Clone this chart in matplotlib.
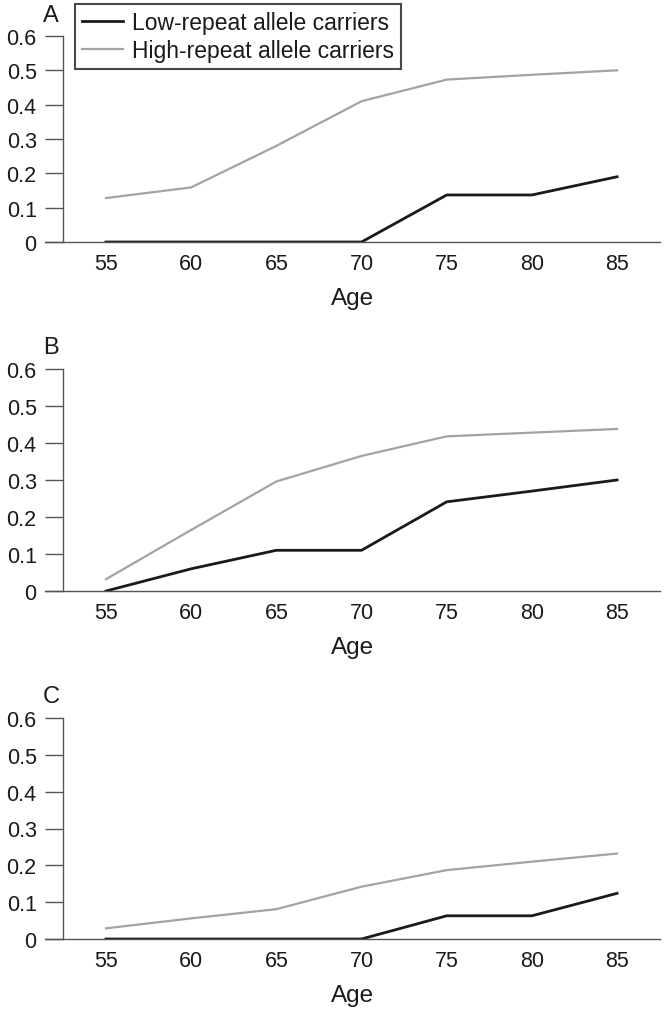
import matplotlib
matplotlib.use('Agg')
import matplotlib.pyplot as plt
from matplotlib.lines import Line2D

plt.rcParams['font.family'] = ['Liberation Sans', 'DejaVu Sans']

# ── data ─────────────────────────────────────────
AGES = [55, 60, 65, 70, 75, 80, 85]
PANELS = ["A", "B", "C"]

LOW_A  = [0, 0, 0, 0, 0.137, 0.137, 0.19]
HIGH_A = [0.128, 0.159, 0.28, 0.41, 0.473, 0.487, 0.50]

LOW_B  = [0, 0.06, 0.11, 0.11, 0.241, 0.27, 0.30]
HIGH_B = [0.032, 0.165, 0.296, 0.365, 0.418, 0.428, 0.438]

LOW_C  = [0, 0, 0, 0, 0.063, 0.063, 0.124]
HIGH_C = [0.029, 0.056, 0.081, 0.142, 0.187, 0.21, 0.232]

LOW_SERIES  = [LOW_A, LOW_B, LOW_C]
HIGH_SERIES = [HIGH_A, HIGH_B, HIGH_C]
LABELS = ["Low-repeat allele carriers", "High-repeat allele carriers"]

LOW_COLOR  = '#1a1a1a'
HIGH_COLOR = '#a3a3a3'
AXIS_COLOR = '#555555'
TEXT_COLOR = '#1a1a1a'

W, H = 666, 1012
fig = plt.figure(figsize=(W / 100, H / 100), dpi=100)

# panel boxes in pixels: (y of 0.6, y of 0)
boxes = [(37, 243), (370, 592), (719, 940)]
left_px, right_px = 45, 660

for i, (top_px, bot_px) in enumerate(boxes):
    ax = fig.add_axes([left_px / W, 1 - bot_px / H,
                       (right_px - left_px) / W, (bot_px - top_px) / H])
    ax.plot(AGES, HIGH_SERIES[i], color=HIGH_COLOR, linewidth=1.6)
    ax.plot(AGES, LOW_SERIES[i], color=LOW_COLOR, linewidth=2.0)

    ax.set_xlim(51.42, 87.52)
    ax.set_ylim(0, 0.6)
    ax.set_xticks(AGES)
    ax.set_yticks([0, 0.1, 0.2, 0.3, 0.4, 0.5, 0.6])
    ax.set_yticklabels(['0', '0.1', '0.2', '0.3', '0.4', '0.5', '0.6'])

    # only left + bottom axis, y-axis shifted right of the x-axis start
    for s in ['top', 'right']:
        ax.spines[s].set_visible(False)
    ax.spines['left'].set_position(('data', 52.48))
    for s in ['left', 'bottom']:
        ax.spines[s].set_color(AXIS_COLOR)
        ax.spines[s].set_linewidth(1.0)

    ax.tick_params(axis='y', direction='out', length=13, width=1.0,
                   color=AXIS_COLOR, labelsize=15.5, pad=6, labelcolor=TEXT_COLOR)
    ax.tick_params(axis='x', length=0, labelsize=15.5, pad=8, labelcolor=TEXT_COLOR)
    ax.set_xlabel("Age", fontsize=17.5, color=TEXT_COLOR, labelpad=9)

    ax.text(-0.003, 1.05, PANELS[i], transform=ax.transAxes, fontsize=17,
            ha='left', va='bottom', color=TEXT_COLOR)

# legend sits in the top of panel A
handles = [Line2D([], [], color=LOW_COLOR, linewidth=2.0),
           Line2D([], [], color=HIGH_COLOR, linewidth=1.6)]
leg = fig.legend(handles, LABELS, loc='upper left',
                 bbox_to_anchor=(75 / W, 1 - 5 / H), fontsize=16.5,
                 frameon=True, fancybox=False, handlelength=1.8,
                 handletextpad=0.4, borderpad=0.3, labelspacing=0.22,
                 borderaxespad=0)
leg.get_frame().set_edgecolor(TEXT_COLOR)
leg.get_frame().set_linewidth(1.5)
for t in leg.get_texts():
    t.set_color(TEXT_COLOR)

fig.savefig("out.png", dpi=100)
